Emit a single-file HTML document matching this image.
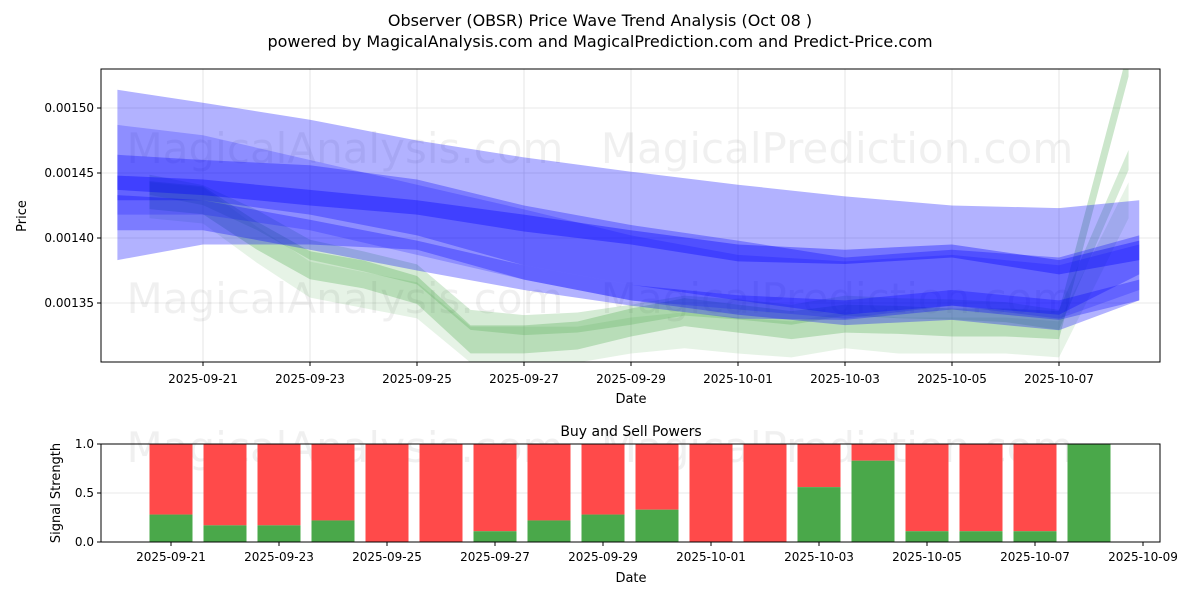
<!DOCTYPE html>
<html><head><meta charset="utf-8"><style>
body{margin:0;background:#fff;}
svg text{font-family:"DejaVu Sans","Liberation Sans",sans-serif;}
</style></head><body>
<svg id="chart" width="1200" height="600" xmlns="http://www.w3.org/2000/svg">
<defs><clipPath id="clipTop"><rect x="101" y="69" width="1059" height="293"/></clipPath></defs>
<rect width="1200" height="600" fill="#fff"/>
<text x="600" y="26" text-anchor="middle" font-size="16">Observer (OBSR) Price Wave Trend Analysis (Oct 08 )</text>
<text x="600" y="47" text-anchor="middle" font-size="16">powered by MagicalAnalysis.com and MagicalPrediction.com and Predict-Price.com</text>
<g id="topPanel"></g>
<g id="bandLayer" clip-path="url(#clipTop)"></g>
<g id="topFrame"></g>
<g id="botPanel"></g>
</svg>
<script>
const blueDays=[0.4,2,4,6,8,10,12,14,16,18,19.5];
const band1Top=[0.001514,0.001504,0.001491,0.001475,0.001462,0.001451,0.001441,0.001432,0.001425,0.001423,0.001429];
const band1Bot=[0.001383,0.001395,0.001395,0.001391,0.001368,0.001352,0.001341,0.001333,0.001337,0.001329,0.001352];
const band2Top=[0.001464,0.00146,0.001456,0.001445,0.001425,0.00141,0.001398,0.001385,0.001391,0.001385,0.001402];
const band2Bot=[0.001429,0.001429,0.001418,0.001402,0.001379,0.001364,0.001352,0.001341,0.001348,0.001341,0.001372];
const band3Top=[0.001448,0.001445,0.001437,0.001429,0.001418,0.001406,0.001395,0.001391,0.001395,0.001383,0.001398];
const band3Bot=[0.001437,0.001433,0.001425,0.001418,0.001405,0.001395,0.001382,0.00138,0.001385,0.001372,0.001383];
const band4Top=[0.001433,0.001429,0.001414,0.001398,0.001379,0.001364,0.001356,0.001352,0.00136,0.001352,0.001368];
const band4Bot=[0.001406,0.001406,0.001391,0.001375,0.00136,0.001348,0.001338,0.001337,0.001345,0.001337,0.001352];
const band5Top=[0.001487,0.001479,0.00146,0.001441,0.001422,0.001402,0.001387,0.001382,0.001387,0.001379,0.001395];
const band5Bot=[0.001418,0.001418,0.001406,0.001387,0.001368,0.001352,0.001345,0.001338,0.001348,0.001338,0.00136];
const greenDays=[1,2,3,4,5,6,7,8,9,10,11,12,13,14,15,16,17,18,19.3];
const green1=[0.001433,0.001429,0.001402,0.001379,0.001372,0.00136,0.001322,0.001322,0.001325,0.001335,0.001343,0.001338,0.001333,0.001338,0.001337,0.001335,0.001335,0.001333,0.001535];
const green2=[0.001441,0.001433,0.001414,0.001391,0.001382,0.001372,0.001337,0.001333,0.001335,0.001341,0.001348,0.001345,0.001341,0.001348,0.001346,0.001345,0.001343,0.001337,0.00146];
const green3=[0.001429,0.001425,0.001395,0.001368,0.00136,0.001352,0.001318,0.001318,0.001318,0.001325,0.001329,0.001325,0.001322,0.001329,0.001325,0.001325,0.001325,0.001322,0.001429];
const priceTicks=[0.00135,0.00140,0.00145,0.00150];
const priceTickLabels=["0.00135","0.00140","0.00145","0.00150"];
const topDateTicks=[2,4,6,8,10,12,14,16,18];
const topDateLabels=["2025-09-21","2025-09-23","2025-09-25","2025-09-27","2025-09-29","2025-10-01","2025-10-03","2025-10-05","2025-10-07"];
const barDays=[2,3,4,5,6,7,8,9,10,11,12,13,14,15,16,17,18,19];
const buyPower=[0.28,0.17,0.17,0.22,0,0,0.11,0.22,0.28,0.33,0,0,0.56,0.83,0.11,0.11,0.11,1.0];
const botDateTicks=[2,4,6,8,10,12,14,16,18,20];
const botDateLabels=["2025-09-21","2025-09-23","2025-09-25","2025-09-27","2025-09-29","2025-10-01","2025-10-03","2025-10-05","2025-10-07","2025-10-09"];
const sigTicks=[0,0.5,1.0];
const sigTickLabels=["0.0","0.5","1.0"];

const NS="http://www.w3.org/2000/svg";
function mk(tag,attrs,parent,txt){const e=document.createElementNS(NS,tag);for(const k in attrs)e.setAttribute(k,attrs[k]);if(txt!==undefined)e.textContent=txt;parent.appendChild(e);return e;}
const T={l:101,r:1160,t:69,b:362};
const xT=d=>96+53.5*d;
const yT=p=>108+(0.00150-p)/0.00005*65;
const B={l:101,r:1160,t:444,b:542};
const xB=d=>171+54*(d-2);
const yB=v=>B.b-v*(B.b-B.t);
const topG=document.getElementById('topPanel'), botG=document.getElementById('botPanel');
const bandG=document.getElementById('bandLayer'), frameG=document.getElementById('topFrame');

priceTicks.forEach((p,i)=>{
 const g=mk('line',{x1:T.l,x2:T.r,y1:yT(p),y2:yT(p),stroke:'#e0e0e0','stroke-width':0.8},topG);
 
 
 const tk=mk('line',{x1:T.l-4,x2:T.l,y1:yT(p),y2:yT(p),stroke:'#000'},topG);
 
 
 const t=mk('text',{x:T.l-7,y:yT(p)+4,'text-anchor':'end','font-size':12},topG,priceTickLabels[i]);
 
 
});
topDateTicks.forEach((d,i)=>{
 const g=mk('line',{x1:xT(d),x2:xT(d),y1:T.t,y2:T.b,stroke:'#e0e0e0','stroke-width':0.8},topG);
 
 
 const tk=mk('line',{x1:xT(d),x2:xT(d),y1:T.b,y2:T.b+4,stroke:'#000'},topG);
 
 
 const t=mk('text',{x:xT(d),y:T.b+21,'text-anchor':'middle','font-size':12},topG,topDateLabels[i]);
 
 
});
[["MagicalAnalysis.com",345,163],["MagicalPrediction.com",837,163],["MagicalAnalysis.com",345,313],["MagicalPrediction.com",837,313]].forEach(w=>{
 const t=mk('text',{x:w[1],y:w[2],'text-anchor':'middle','font-size':42,fill:'rgba(0,0,0,0.06)'},topG,w[0]);
 
 
});
function strip(days,vals,half,fill,op,name){
 const up=days.map((d,i)=>xT(d)+','+(yT(vals[i])-half)).join(' ');
 const dn=days.map((d,i)=>xT(d)+','+(yT(vals[i])+half)).reverse().join(' ');
 const p=mk('polygon',{points:up+' '+dn,fill:fill,'fill-opacity':op},bandG);
 
 
}
strip(greenDays,green3,18,'#2e9a2e',0.12,'green-wave-band');
strip(greenDays,green1,14,'#2e9a2e',0.25,'green-wave-band');
strip(greenDays,green2,10,'#2e9a2e',0.2,'green-wave-band');
function band(tp,bt,op,name){
 const up=blueDays.map((d,i)=>xT(d)+','+yT(tp[i])).join(' ');
 const dn=blueDays.map((d,i)=>xT(d)+','+yT(bt[i])).reverse().join(' ');
 const p=mk('polygon',{points:up+' '+dn,fill:'#0000ff','fill-opacity':op},bandG);
 
 
}
band(band1Top,band1Bot,0.3,'blue-wave-band');
band(band5Top,band5Bot,0.2,'blue-wave-band');
band(band2Top,band2Bot,0.3,'blue-wave-band');
band(band4Top,band4Bot,0.3,'blue-wave-band');
band(band3Top,band3Bot,0.35,'blue-wave-band');
const fr=mk('rect',{x:T.l,y:T.t,width:T.r-T.l,height:T.b-T.t,fill:'none',stroke:'#000'},frameG);


let tx=mk('text',{x:631,y:403,'text-anchor':'middle','font-size':13},frameG,'Date');


tx=mk('text',{x:0,y:0,'text-anchor':'middle','font-size':13,transform:'translate(26,216) rotate(-90)'},frameG,'Price');



tx=mk('text',{x:631,y:436,'text-anchor':'middle','font-size':14},botG,'Buy and Sell Powers');


sigTicks.forEach((v,i)=>{
 const g=mk('line',{x1:B.l,x2:B.r,y1:yB(v),y2:yB(v),stroke:'#e0e0e0','stroke-width':0.8},botG);
 
 
 const tk=mk('line',{x1:B.l-4,x2:B.l,y1:yB(v),y2:yB(v),stroke:'#000'},botG);
 
 
 const tl=mk('text',{x:B.l-7,y:yB(v)+4,'text-anchor':'end','font-size':12},botG,sigTickLabels[i]);
 
 
});
[["MagicalAnalysis.com",345,462],["MagicalPrediction.com",837,462]].forEach(w=>{
 const tw=mk('text',{x:w[1],y:w[2],'text-anchor':'middle','font-size':42,fill:'rgba(0,0,0,0.06)'},botG,w[0]);
 
 
});
barDays.forEach((d,i)=>{
 const x=xB(d)-21.5, v=buyPower[i];
 const r=mk('rect',{x:x,y:yB(1),width:43,height:yB(v)-yB(1),fill:'#ff4a4a'},botG);
 
 
 const g=mk('rect',{x:x,y:yB(v),width:43,height:B.b-yB(v),fill:'#4aa84a'},botG);
 
 
});
botDateTicks.forEach((d,i)=>{
 const tk=mk('line',{x1:xB(d),x2:xB(d),y1:B.b,y2:B.b+4,stroke:'#000'},botG);
 
 
 const tl=mk('text',{x:xB(d),y:B.b+19,'text-anchor':'middle','font-size':12},botG,botDateLabels[i]);
 
 
});
const fb=mk('rect',{x:B.l,y:B.t,width:B.r-B.l,height:B.b-B.t,fill:'none',stroke:'#000'},botG);


tx=mk('text',{x:631,y:582,'text-anchor':'middle','font-size':13},botG,'Date');


tx=mk('text',{x:0,y:0,'text-anchor':'middle','font-size':13,transform:'translate(60,493) rotate(-90)'},botG,'Signal Strength');


</script>
</body></html>
